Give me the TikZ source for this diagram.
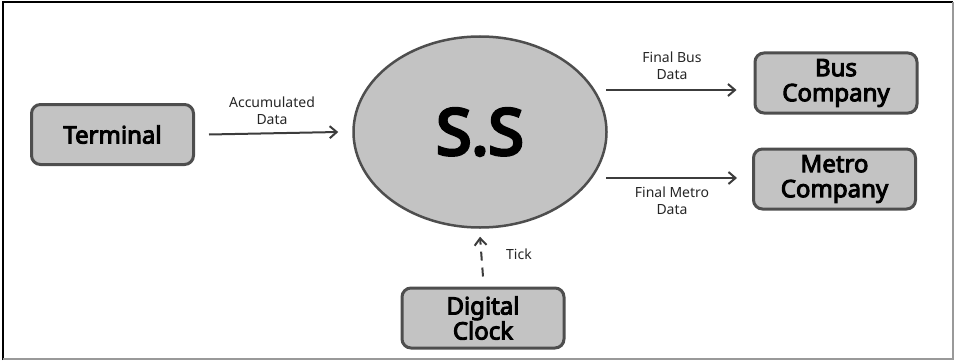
\documentclass[tikz,border=0pt]{standalone}
\usepackage{fontspec}
\setmainfont{Noto Sans}
\newfontfamily\heavyfont{Noto Sans}[FakeBold=4]
\newfontfamily\hugefont{Noto Sans}[FakeBold=5]
\usetikzlibrary{arrows.meta,shapes.geometric}
\definecolor{boxfill}{HTML}{C3C3C3}
\definecolor{boxline}{HTML}{4E4E4E}
\definecolor{arrline}{HTML}{3C3C3C}
\tikzset{
  ent/.style={draw=boxline, fill=boxfill, line width=3pt, rounded corners=9pt,
    minimum width=162pt, minimum height=60pt, inner sep=0pt, align=center,
    font=\heavyfont\fontsize{24}{25}\selectfont},
  proc/.style={ellipse, draw=boxline, fill=boxfill, line width=2.5pt,
    minimum width=253pt, minimum height=191pt, inner sep=0pt,
    font=\hugefont\fontsize{64}{64}\selectfont},
  arr/.style={draw=arrline, line width=2pt, -{Straight Barb[length=7pt,width=12pt,line width=2pt]}},
  lbl/.style={align=center, font=\fontsize{14}{17}\selectfont, text=black!85},
}
\begin{document}
\begin{tikzpicture}[x=1pt,y=-1pt]
\useasboundingbox (0,0) rectangle (955,361);
\draw[line width=2pt, black] (3,360) -- (3,2) -- (953,2);
\draw[line width=2pt, gray!80] (953,2) -- (953,359) -- (3,359);
\node[proc] (ss) at (480,132) {S.S};
\node[ent] (term) at (112.5,134.5) {Terminal};
\node[ent] (bus) at (836,83) {Bus\\Company};
\node[ent] (metro) at (834.5,179) {Metro\\Company};
\node[ent] (clock) at (483,318) {Digital\\Clock};
\coordinate (busstart) at (606,90);
\coordinate (metrostart) at (606,178);
\draw[arr] ([xshift=14pt]term.east) -- ([xshift=-14pt]ss.west);
\draw[arr] (busstart) -- ([xshift=-17pt,yshift=-7pt]bus.west);
\draw[arr] (metrostart) -- ([xshift=-15pt,yshift=1pt]metro.west);
\draw[arr, dashed, dash pattern=on 9pt off 7pt] ([yshift=10pt]clock.north) -- ([yshift=-8pt]ss.south);
\node[lbl] (l1) at (272,111) {Accumulated\\Data};
\node[lbl] (l2) at (672,66) {Final Bus\\Data};
\node[lbl] (l3) at (672,201) {Final Metro\\Data};
\node[lbl] (l4) at (519,254) {Tick};
\end{tikzpicture}
\end{document}
